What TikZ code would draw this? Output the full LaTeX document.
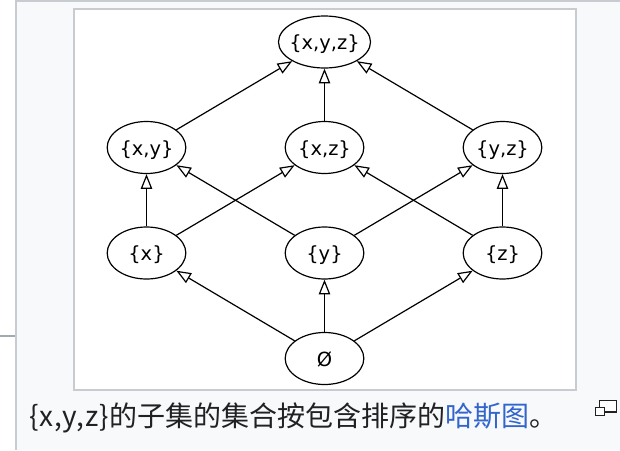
\documentclass[tikz,border=0pt]{standalone}
\usepackage{fontspec}
\usepackage{tikz}
\usetikzlibrary{positioning,shapes.geometric,arrows.meta}
\setmainfont{DejaVu Sans}
\newfontfamily\captionFont{Noto Sans CJK SC}
\newfontfamily\captionLatin[LetterSpace=3]{Noto Sans CJK SC}
\definecolor{panelColor}{RGB}{248,249,250}
\definecolor{borderColor}{RGB}{200,204,209}
\definecolor{stubColor}{RGB}{162,169,177}
\definecolor{linkColor}{RGB}{51,102,204}
\definecolor{captionColor}{RGB}{32,33,34}
\tikzstyle{hasse} = [x = .75pt, y = -.75pt]
\tikzstyle{setNode} = [draw, ellipse, fill=white, line width=.9pt, inner sep=0pt, minimum width=59pt, minimum height=39pt, text height=12.8pt, text depth=1.5pt, font=\fontsize{14.6}{16}\selectfont]
\tikzstyle{wideNode} = [setNode, inner xsep=-2pt, minimum width=68pt]
\tikzstyle{cover} = [line width=.9pt, -{Triangle[open, length=11pt, width=8.5pt]}]
\tikzstyle{frameLine} = [color=borderColor, line width=1.5pt]
\tikzstyle{iconLine} = [color=captionColor, line width=.8pt, fill=white]
\newcommand{\coverEdge}[2]{\draw [cover] (#1) -- (#2);}
\begin{document}
\begin{tikzpicture}[hasse]
  \useasboundingbox (0,0) rectangle (620,450);
  \fill [white] (0,0) rectangle (620,450);
  \fill [panelColor] (16,1) rectangle (620,450);
  \draw [frameLine] (15,1) -- (620,1);
  \draw [frameLine] (16,0) -- (16,450);
  \draw [color=stubColor, line width=1.5pt] (0,336) -- (15,336);
  \filldraw [frameLine, fill=white] (74,9) rectangle (576,390);

  % rank by rank, top to bottom
  \node [wideNode] (xyz) at (324.5,42) {\{x,y,z\}};
  \node [setNode] (xy) at (146.5,147.5) {\{x,y\}};
  \node [setNode] (xz) at (324.5,147.5) {\{x,z\}};
  \node [setNode] (yz) at (502.5,147.5) {\{y,z\}};
  \node [setNode] (x) at (146.5,253) {\{x\}};
  \node [setNode] (y) at (324.5,253) {\{y\}};
  \node [setNode] (z) at (502.5,253) {\{z\}};
  \node [setNode] (empty) at (324.5,358.5) {Ø};

  \coverEdge{xy}{xyz}
  \coverEdge{xz}{xyz}
  \coverEdge{yz}{xyz}
  \coverEdge{x}{xy}
  \coverEdge{x}{xz}
  \coverEdge{y}{xy}
  \coverEdge{y}{yz}
  \coverEdge{z}{xz}
  \coverEdge{z}{yz}
  \coverEdge{empty}{x}
  \coverEdge{empty}{y}
  \coverEdge{empty}{z}

  \node [anchor=west, inner sep=0pt, text=captionColor, font=\captionFont\fontsize{21}{25}\selectfont] (caption) at (29,418) {{\captionLatin\{x,y,z\}}的子集的集合按包含排序的\textcolor{linkColor}{哈斯图}。};
  \draw [iconLine] (599.5,400.5) rectangle (616.5,412);
  \draw [iconLine] (595.5,407.5) rectangle (604.5,415.5);
\end{tikzpicture}
\end{document}
